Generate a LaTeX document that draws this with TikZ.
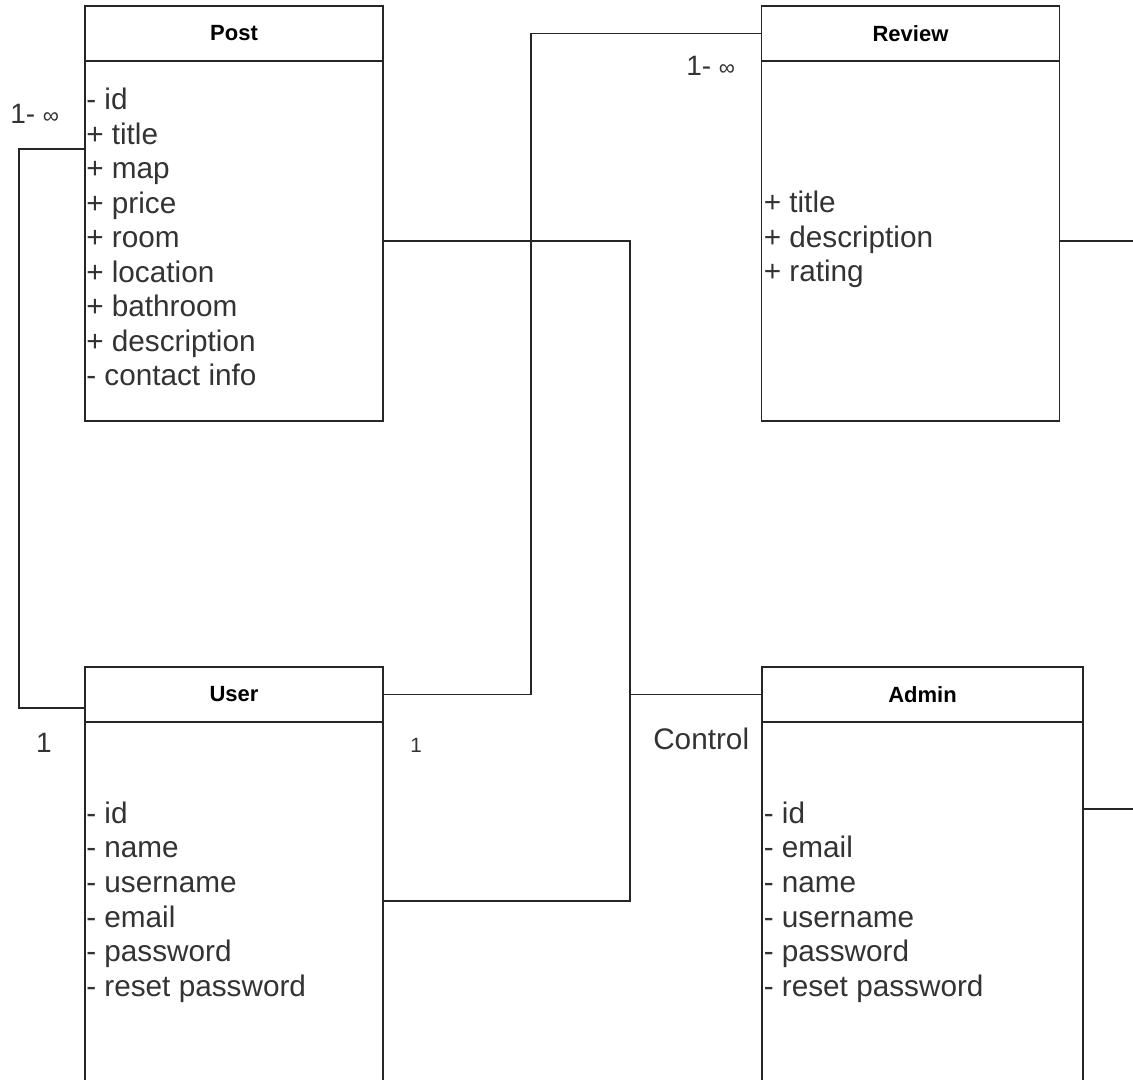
\documentclass[tikz,border=0pt]{standalone}
\usepackage{fontspec}
\setmainfont{Liberation Sans}
\usepackage{tikz}
\usetikzlibrary{positioning}

\begin{document}
\begin{tikzpicture}[x=0.75pt,y=0.75pt,yscale=-1,
  classhead/.style={draw=black!85, line width=1.1pt, outer sep=0pt, inner sep=0pt, minimum width=223.5pt, minimum height=41.25pt, font=\fontsize{16.5}{18}\selectfont\bfseries, text=black},
  classbody/.style={draw=black!85, line width=1.1pt, outer sep=0pt, inner sep=0pt, minimum width=223.5pt, below=0pt of #1},
  attr/.style={anchor=base west, inner sep=0pt, font=\fontsize{22.3}{26}\selectfont, text=black!80},
  mult/.style={inner sep=0pt, font=\fontsize{21}{24}\selectfont, text=black!80},
  link/.style={draw=black!85, line width=1.1pt}
]
%page size of the original screenshot
\useasboundingbox (0,0) rectangle (1133,1080);

\node[classhead] (post) at (234,33.5) {Post};
\node[classbody=post, minimum height=270pt] (postbody) {};
\node[classhead] (review) at (910.5,33.5) {Review};
\node[classbody=review, minimum height=270pt] (reviewbody) {};
\node[classhead] (user) at (234,694.5) {User};
\node[classbody=user, minimum height=277.5pt] (userbody) {};
\node[classhead, minimum width=240.75pt] (admin) at (922.5,694.5) {Admin};
\node[classbody=admin, minimum width=240.75pt, minimum height=277.5pt] (adminbody) {};

\foreach \a [count=\i from 0] in {- id,+ title,+ map,+ price,+ room,+ location,+ bathroom,+ description,- contact info}
  \node[attr] (post-a\i) at (86,110+34.5*\i) {\a};
\foreach \a [count=\i from 0] in {+ title,+ description,+ rating}
  \node[attr] (review-a\i) at (763.5,213+34.5*\i) {\a};
\foreach \a [count=\i from 0] in {- id,- name,- username,- email,- password,- reset password}
  \node[attr] (user-a\i) at (86,823+34.7*\i) {\a};
\foreach \a [count=\i from 0] in {- id,- email,- name,- username,- password,- reset password}
  \node[attr] (admin-a\i) at (763.5,823+34.7*\i) {\a};

\draw[link] ([yshift=66pt]postbody.north west) -- ++(-66,0) |- ([yshift=10pt]user.west);
\draw[link] (user.east) -- ++(148,0) |- (review.west);
\draw[link] (postbody.east) -- ++(247,0) |- ([yshift=-4.5pt]userbody.east);
\draw[link] (admin.west) -- ++(-131,0);
\draw[link] (reviewbody.east) -- ++(80,0);
\draw[link] ([yshift=-73.5pt]adminbody.east) -- ++(60,0);

\node[mult, anchor=base west] (postmany) at (10,124) {1- {\fontsize{17}{17}\selectfont ∞}};
\node[mult, anchor=base] (userone) at (44,753) {1};
\node[mult, anchor=base west] (reviewmany) at (686,76) {1- {\fontsize{17}{17}\selectfont ∞}};
\node[mult, anchor=base, font=\fontsize{15.5}{18}\selectfont] (usertwo) at (416,752) {1};
\node[attr] (control) at (653,749) {Control};

\end{tikzpicture}
\end{document}
